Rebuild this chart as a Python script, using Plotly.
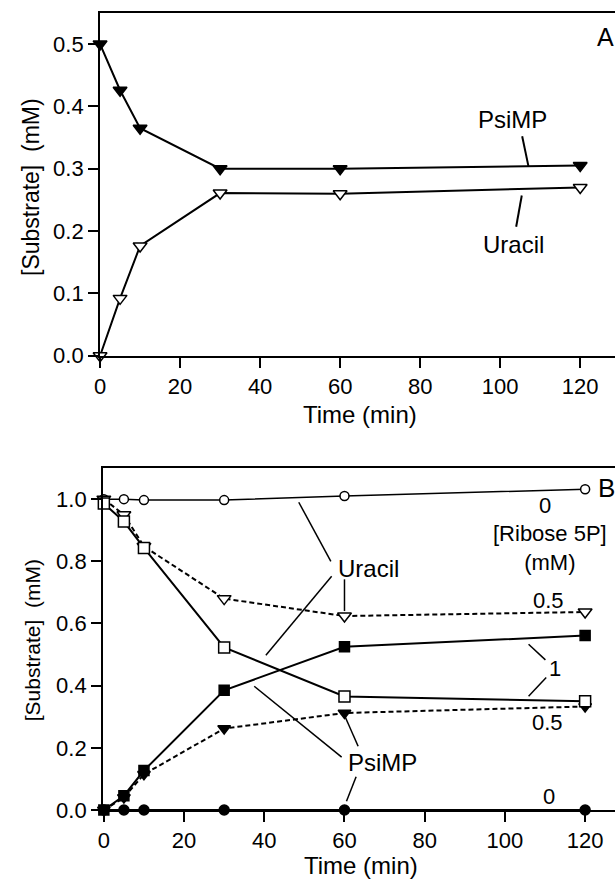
import plotly.graph_objects as go

# ---------------- data ----------------
time_min = [0, 5, 10, 30, 60, 120]

# Panel A
a_psimp = [0.50, 0.426, 0.365, 0.300, 0.300, 0.305]
a_uracil = [0.0, 0.092, 0.176, 0.261, 0.260, 0.270]

# Panel B  (ribose 5P concentration in mM)
b_uracil_0 = [1.0, 1.0, 0.997, 0.997, 1.010, 1.032]
b_psimp_0 = [0.0, 0.0, 0.0, 0.0, 0.0, 0.0]
b_uracil_05 = [1.0, 0.950, 0.848, 0.680, 0.624, 0.637]
b_psimp_05 = [0.0, 0.040, 0.115, 0.262, 0.312, 0.333]
b_uracil_1 = [0.986, 0.928, 0.843, 0.523, 0.365, 0.350]
b_psimp_1 = [0.0, 0.046, 0.127, 0.385, 0.525, 0.561]

x_ticks = [0, 20, 40, 60, 80, 100, 120]
ya_ticks = [0.0, 0.1, 0.2, 0.3, 0.4, 0.5]
yb_ticks = [0.0, 0.2, 0.4, 0.6, 0.8, 1.0]

FONT = "Liberation Sans, Arial, sans-serif"
W, H = 615, 891

fig = go.Figure()

def add(x, y, xa, ya, symbol, size, fill, dash="solid", lw=2):
    fig.add_trace(go.Scatter(
        x=x, y=y, xaxis=xa, yaxis=ya, mode="lines+markers",
        line=dict(color="black", width=lw, dash=dash),
        marker=dict(symbol=symbol, size=size, color=fill,
                    line=dict(color="black", width=1.5)),
        cliponaxis=False, showlegend=False, hoverinfo="x+y"))

# Panel A
add(time_min, a_uracil, "x", "y", "triangle-down", 12, "white")
add(time_min, a_psimp, "x", "y", "triangle-down", 12, "black")

# Panel B
dash05 = "5px,3px"
add(time_min, b_uracil_0, "x2", "y2", "circle", 9, "white", lw=1.5)
add(time_min, b_uracil_05, "x2", "y2", "triangle-down", 12, "white", dash=dash05, lw=2)
add(time_min, b_psimp_05, "x2", "y2", "triangle-down", 11, "black", dash=dash05, lw=2)
add(time_min, b_uracil_1, "x2", "y2", "square", 11, "white", lw=2)
add(time_min, b_psimp_1, "x2", "y2", "square", 10, "black", lw=2)
add(time_min, b_psimp_0, "x2", "y2", "circle", 10, "black", lw=2)

def px_x(p):
    return p / W

def px_y(p):
    return (H - p) / H

axis_common = dict(
    showline=True, linewidth=2, linecolor="black", showgrid=False, zeroline=False,
    ticks="outside", ticklen=10, tickwidth=2, tickcolor="black",
    tickfont=dict(family=FONT, size=22, color="black"))

fig.update_layout(
    width=W, height=H, margin=dict(l=0, r=0, t=0, b=0),
    paper_bgcolor="white", plot_bgcolor="white",
    font=dict(family=FONT, color="black"),
    xaxis=dict(domain=[px_x(95), 1.0], range=[0, 128.7], anchor="y",
               tickvals=x_ticks, mirror=True, **axis_common),
    yaxis=dict(domain=[px_y(361), px_y(13.1)], range=[0, 0.55], anchor="x",
               tickvals=ya_ticks, tickformat=".1f", **axis_common),
    xaxis2=dict(domain=[px_x(98), 1.0], range=[-0.2, 127.45], anchor="y2",
                tickvals=x_ticks, mirror=True, **axis_common),
    yaxis2=dict(domain=[px_y(822), px_y(475)], range=[0, 1.1], anchor="x2",
                tickvals=yb_ticks, tickformat=".1f", **axis_common),
)

ann = []
def text(x, y, s, xr, yr, size=22, xanchor="center", angle=0):
    ann.append(dict(x=x, y=y, xref=xr, yref=yr, text=s, showarrow=False,
                    xanchor=xanchor, yanchor="middle", textangle=angle,
                    font=dict(family=FONT, size=size, color="black")))

shapes = []
def seg(x0, y0, x1, y1, xr, yr, w=1.5):
    shapes.append(dict(type="line", x0=x0, y0=y0, x1=x1, y1=y1, xref=xr, yref=yr,
                       line=dict(color="black", width=w)))

# axis titles
text(px_x(25), px_y(190), "[Substrate]\u00a0\u00a0(mM)", "paper", "paper", size=23, angle=-90)
text(px_x(27), px_y(650), "[Substrate]\u00a0\u00a0(mM)", "paper", "paper", size=21, angle=-90)
text(px_x(357), px_y(421), "Time (min)", "paper", "paper", size=24)
text(px_x(359), px_y(878), "Time (min)", "paper", "paper", size=24)

# Panel A labels
text(103.2, 0.379, "PsiMP", "x", "y", size=24)
text(103.3, 0.1787, "Uracil", "x", "y", size=24)
text(123.6, 0.512, "A", "x", "y", size=25, xanchor="left")
seg(105.5, 0.352, 107.1, 0.303, "x", "y", w=2)
seg(105.4, 0.257, 104.0, 0.207, "x", "y", w=2)

# Panel B labels
text(110.0, 0.979, "0", "x2", "y2")
text(111.3, 0.8415, "[Ribose 5P]<br>(mM)", "x2", "y2")
text(66.1, 0.777, "Uracil", "x2", "y2", size=24)
text(110.8, 0.673, "0.5", "x2", "y2")
text(112.6, 0.456, "1", "x2", "y2")
text(110.5, 0.282, "0.5", "x2", "y2")
text(69.6, 0.154, "PsiMP", "x2", "y2", size=24)
text(111.0, 0.043, "0", "x2", "y2")
text(122.6, 1.036, "B", "x2", "y2", size=26, xanchor="left")

seg(48.6, 0.990, 56.6, 0.800, "x2", "y2")
seg(56.8, 0.752, 40.4, 0.498, "x2", "y2")
seg(60.0, 0.742, 60.0, 0.640, "x2", "y2")
seg(105.9, 0.533, 110.1, 0.483, "x2", "y2")
seg(110.3, 0.426, 105.9, 0.366, "x2", "y2")
seg(37.5, 0.398, 59.3, 0.170, "x2", "y2")
seg(60.0, 0.305, 63.4, 0.205, "x2", "y2")
seg(62.9, 0.107, 60.5, 0.028, "x2", "y2")

fig.update_layout(annotations=ann, shapes=shapes)

fig.write_html(
    "out.html",
    config={"displayModeBar": False},
    post_script="document.body.style.margin='0';document.body.style.overflow='hidden';",
)
